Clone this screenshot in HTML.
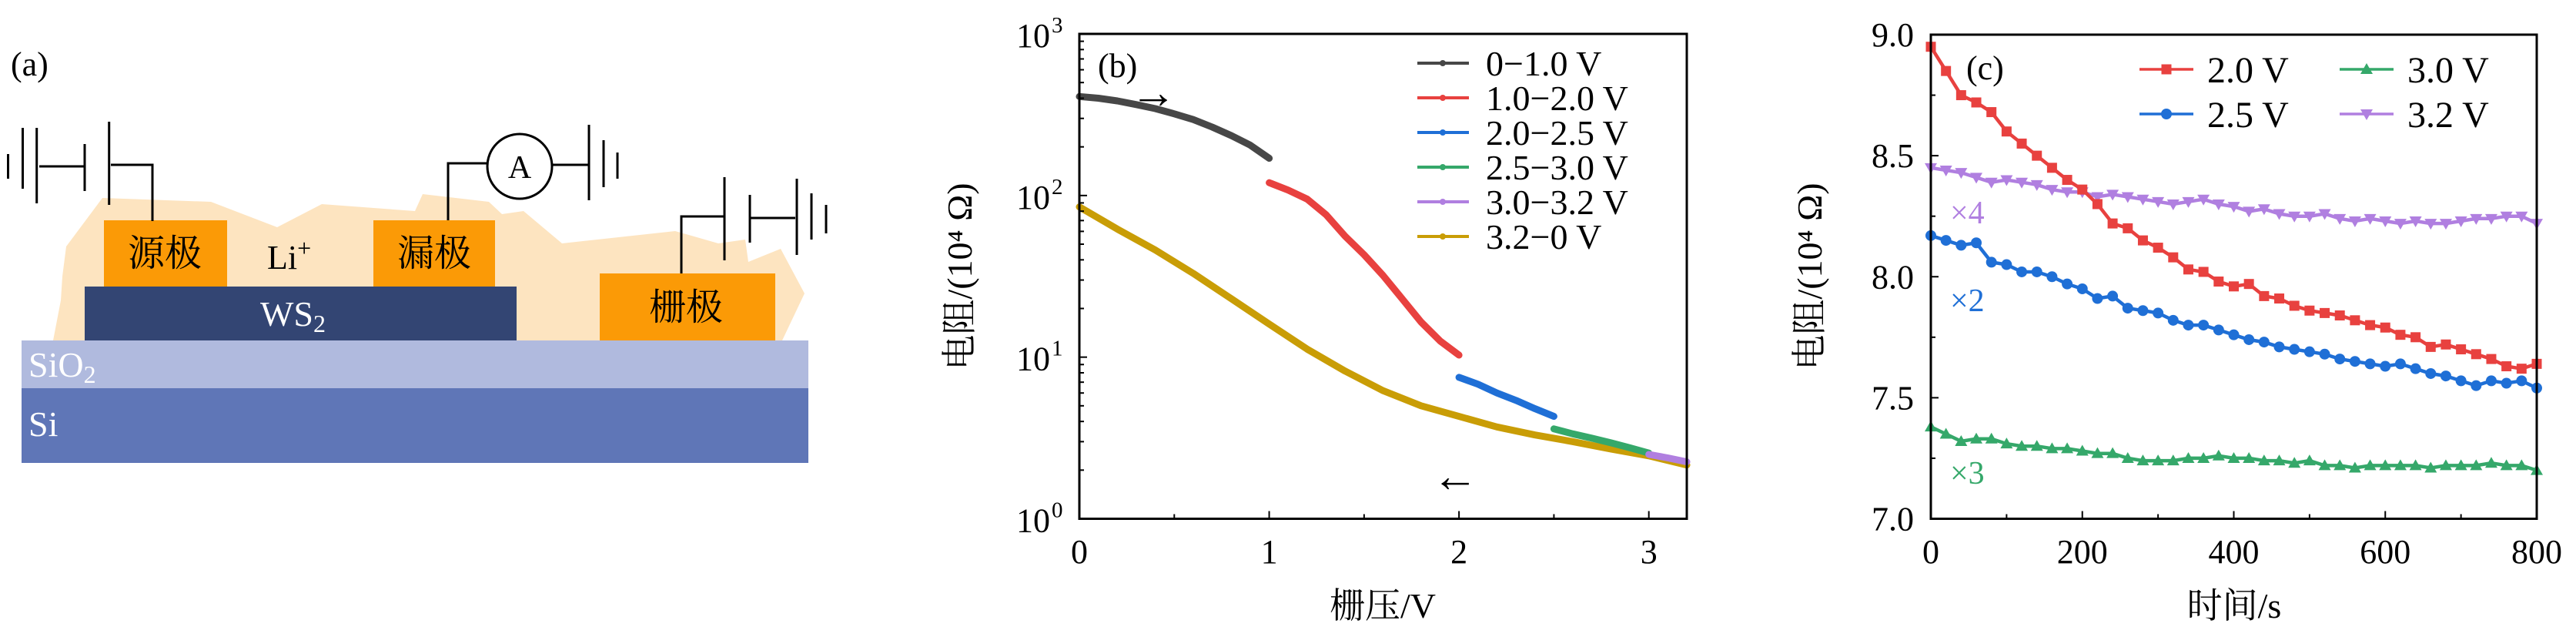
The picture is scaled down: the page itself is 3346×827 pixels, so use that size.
<!DOCTYPE html>
<html><head><meta charset="utf-8"><style>
html,body{margin:0;padding:0;background:#fff;}
svg{display:block;}
text{font-family:"Liberation Serif","Noto Serif CJK SC",serif;}
.cjk{font-family:"Liberation Serif","Noto Serif CJK SC","Noto Sans CJK SC",serif;}
</style></head><body>
<svg id="fig" width="3346" height="827" viewBox="0 0 3346 827" xmlns="http://www.w3.org/2000/svg">
<g id="panel-a">
<text x="14" y="98" font-size="44">(a)</text>
<polygon fill="#fde4c0" points="69,442 79,390 81,359 86,320 133,257 274,262 360,295 418,265 539,274 549,252 635,262 652,278 680,274 730,316 877,300 933,316 968,311 972,340 1014,323 1045,381 1016,442"/>
<rect x="28" y="504" width="1022" height="97" fill="#5f76b7"/>
<rect x="28" y="442" width="1022" height="62" fill="#b0bade"/>
<rect x="110" y="372" width="561" height="70" fill="#334573"/>
<rect x="135" y="286" width="160" height="86" fill="#fb9a06"/>
<rect x="485" y="286" width="158" height="86" fill="#fb9a06"/>
<rect x="779" y="355" width="228" height="87" fill="#fb9a06"/>
<text class="cjk" x="214" y="345" font-size="48" text-anchor="middle">源极</text>
<text class="cjk" x="564" y="345" font-size="48" text-anchor="middle">漏极</text>
<text class="cjk" x="891" y="415" font-size="48" text-anchor="middle">栅极</text>
<text x="347" y="349" font-size="44">Li<tspan font-size="32" dy="-16">+</tspan></text>
<text x="338" y="423" font-size="46" fill="#fff">WS<tspan font-size="32" dy="8">2</tspan></text>
<text x="37" y="489" font-size="46" fill="#fff">SiO<tspan font-size="32" dy="8">2</tspan></text>
<text x="37" y="566" font-size="46" fill="#fff">Si</text>
<g stroke="#000" stroke-width="3" fill="none">
<line x1="10.5" y1="200" x2="10.5" y2="232"/><line x1="29.5" y1="166" x2="29.5" y2="245"/>
<line x1="47.7" y1="166" x2="47.7" y2="264"/><line x1="51" y1="216" x2="110" y2="216"/>
<line x1="110" y1="187" x2="110" y2="248"/><line x1="141.7" y1="158" x2="141.7" y2="266"/>
<polyline points="144,214 198,214 198,287"/>
<polyline points="582,286 582,212 633,212"/>
<line x1="717" y1="214" x2="765" y2="214"/>
<line x1="765" y1="162" x2="765" y2="260"/><line x1="784" y1="182" x2="784" y2="243"/><line x1="802" y1="198" x2="802" y2="232"/>
<polyline points="885,355 885,281 940,281"/>
<line x1="941" y1="230" x2="941" y2="338"/><line x1="974" y1="253" x2="974" y2="315"/>
<line x1="975" y1="283" x2="1033" y2="283"/><line x1="1035" y1="232" x2="1035" y2="331"/>
<line x1="1054" y1="251" x2="1054" y2="311"/><line x1="1073" y1="266" x2="1073" y2="303"/>
</g>
<circle cx="675" cy="216" r="42" fill="#fff" stroke="#000" stroke-width="3"/>
<text x="675" y="231" font-size="42" text-anchor="middle">A</text>
</g>
<g id="panel-b"></g>
<g id="panel-c"></g>
</svg>
<script>
// ---- Panel (b) data ----
const bBlackV = [0,0.1,0.2,0.3,0.4,0.5,0.6,0.7,0.8,0.9,1.0];
const bBlackR = [410,400,385,365,345,320,295,265,235,205,170];
const bRedV = [1.0,1.1,1.2,1.25,1.3,1.4,1.5,1.6,1.7,1.8,1.9,2.0];
const bRedR = [120,108,95,85,76,56,43,32,23,16.5,12.6,10.3];
const bBlueV = [2.0,2.1,2.2,2.3,2.4,2.5];
const bBlueR = [7.5,6.8,6.0,5.4,4.8,4.3];
const bGreenV = [2.5,2.6,2.7,2.8,2.9,3.0];
const bGreenR = [3.6,3.35,3.15,2.95,2.75,2.55];
const bPurpleV = [3.0,3.1,3.2];
const bPurpleR = [2.5,2.38,2.25];
const bGoldV = [0,0.2,0.4,0.6,0.8,1.0,1.2,1.4,1.6,1.8,2.0,2.2,2.4,2.6,2.8,3.0,3.2];
const bGoldR = [85,62,46,33,23,16,11.2,8.2,6.2,5.0,4.3,3.7,3.3,3.0,2.7,2.45,2.15];
const bXTicks = [0,1,2,3];
const bYExp = [0,1,2,3];
const bLegend = ["0\u22121.0 V","1.0\u22122.0 V","2.0\u22122.5 V","2.5\u22123.0 V","3.0\u22123.2 V","3.2\u22120 V"];
// ---- Panel (c) data ----
const cTimes = [0,20,40,60,80,100,120,140,160,180,200,220,240,260,280,300,320,340,360,380,400,420,440,460,480,500,520,540,560,580,600,620,640,660,680,700,720,740,760,780,800];
const cRed = [8.95,8.85,8.75,8.72,8.68,8.6,8.55,8.5,8.45,8.4,8.36,8.3,8.22,8.2,8.15,8.12,8.08,8.03,8.02,7.98,7.96,7.97,7.92,7.91,7.88,7.86,7.85,7.84,7.82,7.8,7.79,7.76,7.75,7.71,7.72,7.7,7.68,7.66,7.63,7.62,7.64];
const cBlue = [8.17,8.15,8.13,8.14,8.06,8.05,8.02,8.02,8.0,7.97,7.95,7.91,7.92,7.87,7.86,7.85,7.82,7.8,7.8,7.78,7.76,7.74,7.73,7.71,7.7,7.69,7.68,7.66,7.65,7.64,7.63,7.64,7.62,7.6,7.59,7.57,7.55,7.57,7.56,7.57,7.54];
const cPurple = [8.45,8.44,8.43,8.41,8.39,8.4,8.39,8.38,8.36,8.35,8.35,8.33,8.34,8.33,8.32,8.31,8.3,8.31,8.32,8.3,8.29,8.27,8.28,8.26,8.25,8.25,8.26,8.24,8.23,8.24,8.23,8.22,8.23,8.22,8.22,8.23,8.24,8.24,8.25,8.25,8.22];
const cGreen = [7.38,7.35,7.32,7.33,7.33,7.31,7.3,7.3,7.29,7.29,7.28,7.27,7.27,7.25,7.24,7.24,7.24,7.25,7.25,7.26,7.25,7.25,7.24,7.24,7.23,7.24,7.22,7.22,7.21,7.22,7.22,7.22,7.22,7.21,7.22,7.22,7.22,7.23,7.22,7.22,7.2];
const cXTicks = [0,200,400,600,800];
const cYTicks = [7.0,7.5,8.0,8.5,9.0];
const cLegend = ["2.0 V","2.5 V","3.0 V","3.2 V"];

const NS="http://www.w3.org/2000/svg";
function mk(parent,tag,attrs,txt){const e=document.createElementNS(NS,tag);for(const k in attrs)e.setAttribute(k,attrs[k]);if(txt!==undefined)e.textContent=txt;parent.appendChild(e);return e;}

// ===== Panel b =====
const gb=document.getElementById('panel-b');
const bL=1402,bR=2191,bT=44,bB=673.5;
const bx=v=>bL+(v/3.2)*(bR-bL);
const by=r=>bB-(Math.log10(r)/3)*(bB-bT);
function bSeries(V,R,color,name){
  const pts=V.map((v,i)=>bx(v).toFixed(1)+','+by(R[i]).toFixed(1)).join(' ');
  const p=mk(gb,'polyline',{points:pts,fill:'none',stroke:color,'stroke-width':9,'stroke-linejoin':'round','stroke-linecap':'round'});
  
  
}
bSeries(bGoldV,bGoldR,'#c99d06','series-3.2-0v');
bSeries(bBlackV,bBlackR,'#474747','series-0-1v');
bSeries(bRedV,bRedR,'#e8413f','series-1-2v');
bSeries(bBlueV,bBlueR,'#1f6fd6','series-2-2.5v');
bSeries(bGreenV,bGreenR,'#35a86a','series-2.5-3v');
bSeries(bPurpleV,bPurpleR,'#b07fe0','series-3-3.2v');
const bFrame=mk(gb,'rect',{x:bL,y:bT,width:bR-bL,height:bB-bT,fill:'none',stroke:'#000','stroke-width':3});


for(let v=0;v<=3;v+=0.5){const tk=mk(gb,'line',{x1:bx(v),x2:bx(v),y1:bB,y2:bB-(v%1===0?10:6),stroke:'#000','stroke-width':2});}
bXTicks.forEach(v=>{const tx=mk(gb,'text',{x:bx(v),y:731,'font-size':44,'text-anchor':'middle'},String(v));});
bYExp.forEach(e=>{
  const y=by(Math.pow(10,e));
  const tk=mk(gb,'line',{x1:bL,x2:bL+10,y1:y,y2:y,stroke:'#000','stroke-width':2});
  
  const tx=mk(gb,'text',{x:1364,y:y+17,'font-size':44,'text-anchor':'end'},'10');
  
  const sup=mk(gb,'text',{x:1366,y:y-2,'font-size':29},String(e));
  
  if(e<3)for(let m=2;m<=9;m++){const ym=by(m*Math.pow(10,e));const mt=mk(gb,'line',{x1:bL,x2:bL+6,y1:ym,y2:ym,stroke:'#000','stroke-width':2});}
});
let t;
t=mk(gb,'text',{x:1796,y:802,'font-size':46,'text-anchor':'middle','class':'cjk'},'栅压/V');
t=mk(gb,'text',{x:0,y:0,'font-size':46,'text-anchor':'middle','class':'cjk',transform:'translate(1262,359) rotate(-90)'},'电阻/(10⁴ Ω)');
t=mk(gb,'text',{x:1426,y:100,'font-size':44},'(b)');
t=mk(gb,'text',{x:1468,y:140,'font-size':60},'\u2192');
t=mk(gb,'text',{x:1860,y:638,'font-size':60},'\u2190');
const bLegCol=['#474747','#e8413f','#1f6fd6','#35a86a','#b07fe0','#c99d06'];
bLegend.forEach((s,i)=>{
  const y=82+i*45;
  const l=mk(gb,'line',{x1:1841,x2:1908,y1:y,y2:y,stroke:bLegCol[i],'stroke-width':4});
  
  const c=mk(gb,'circle',{cx:1874,cy:y,r:4,fill:bLegCol[i]});
  
  const tx=mk(gb,'text',{x:1930,y:y+16,'font-size':46},s);
  
});

// ===== Panel c =====
const gc=document.getElementById('panel-c');
const cL=2508,cR=3295,cT=45,cB=673.5;
const cx=s=>cL+(s/800)*(cR-cL);
const cy=v=>cB-((v-7)/2)*(cB-cT);
function marker(g,type,x,y,col){
  let e;
  if(type==='sq')e=mk(g,'rect',{x:x-6.5,y:y-6.5,width:13,height:13,fill:col});
  else if(type==='ci')e=mk(g,'circle',{cx:x,cy:y,r:7,fill:col});
  else if(type==='up')e=mk(g,'polygon',{points:`${x},${y-8} ${x-8},${y+6} ${x+8},${y+6}`,fill:col});
  else e=mk(g,'polygon',{points:`${x},${y+8} ${x-8},${y-6} ${x+8},${y-6}`,fill:col});
  return e;
}
function cSeries(vals,color,type,name){
  const pts=cTimes.map((s,i)=>cx(s).toFixed(1)+','+cy(vals[i]).toFixed(1)).join(' ');
  const p=mk(gc,'polyline',{points:pts,fill:'none',stroke:color,'stroke-width':4.5});
  
  
  cTimes.forEach((s,i)=>{const m=marker(gc,type,cx(s),cy(vals[i]),color);});
}
cSeries(cGreen,'#35a86a','up','series-3.0v');
cSeries(cPurple,'#b07fe0','dn','series-3.2v');
cSeries(cBlue,'#1f6fd6','ci','series-2.5v');
cSeries(cRed,'#e8413f','sq','series-2.0v');
const cFrame=mk(gc,'rect',{x:cL,y:cT,width:cR-cL,height:cB-cT,fill:'none',stroke:'#000','stroke-width':3});


for(let s=0;s<=800;s+=100){const tk=mk(gc,'line',{x1:cx(s),x2:cx(s),y1:cB,y2:cB-(s%200===0?10:6),stroke:'#000','stroke-width':2});}
for(let v=7;v<=9.001;v+=0.25){const tk=mk(gc,'line',{x1:cL,x2:cL+(Math.abs(v*2-Math.round(v*2))<0.01?10:6),y1:cy(v),y2:cy(v),stroke:'#000','stroke-width':2});}
cXTicks.forEach(s=>{const tx=mk(gc,'text',{x:cx(s),y:731,'font-size':44,'text-anchor':'middle'},String(s));});
cYTicks.forEach(v=>{const tx=mk(gc,'text',{x:2486,y:cy(v)+15,'font-size':44,'text-anchor':'end'},v.toFixed(1));});
t=mk(gc,'text',{x:2902,y:802,'font-size':46,'text-anchor':'middle','class':'cjk'},'时间/s');
t=mk(gc,'text',{x:0,y:0,'font-size':46,'text-anchor':'middle','class':'cjk',transform:'translate(2366,359) rotate(-90)'},'电阻/(10⁴ Ω)');
t=mk(gc,'text',{x:2554,y:103,'font-size':44},'(c)');
t=mk(gc,'text',{x:2533,y:290,'font-size':42,fill:'#b07fe0'},'\u00d74');
t=mk(gc,'text',{x:2533,y:404,'font-size':42,fill:'#1f6fd6'},'\u00d72');
t=mk(gc,'text',{x:2533,y:628,'font-size':42,fill:'#35a86a'},'\u00d73');
const cLegPos=[[2779,90],[2779,148],[3039,90],[3039,148]];
const cLegCol=['#e8413f','#1f6fd6','#35a86a','#b07fe0'];
const cLegMk=['sq','ci','up','dn'];
cLegend.forEach((s,i)=>{
  const [x,y]=cLegPos[i];
  const l=mk(gc,'line',{x1:x,x2:x+70,y1:y,y2:y,stroke:cLegCol[i],'stroke-width':3.5});
  
  const m=marker(gc,cLegMk[i],x+35,y,cLegCol[i]);
  
  const tx=mk(gc,'text',{x:x+88,y:y+17,'font-size':48},s);
  
});
</script>
</body></html>
